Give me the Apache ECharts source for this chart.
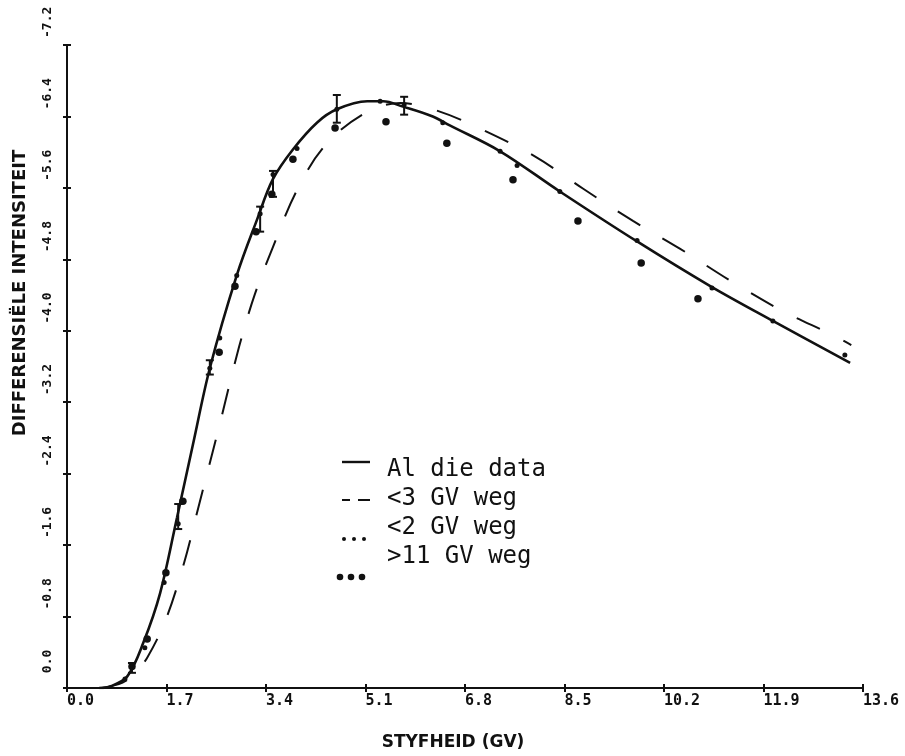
<!DOCTYPE html>
<html><head><meta charset="utf-8">
<script src="https://cdn.jsdelivr.net/npm/echarts@6/dist/echarts.min.js"></script>
<style>html,body{margin:0;padding:0;background:#fff}#c{width:905px;height:756px}</style>
</head><body><div id="c"></div>
<script>
// ---- tick labels ----
const xTickLabels = ['0.0','1.7','3.4','5.1','6.8','8.5','10.2','11.9','13.6'];
const yTickLabels = ['-7.2','-6.4','-5.6','-4.8','-4.0','-3.2','-2.4','-1.6','-0.8',' 0.0'];

// ---- series names ----
const seriesNames = ['Al die data', '<3 GV weg', '<2 GV weg', '>11 GV weg'];

// ---- solid curve: all data ----
const solidX = [0.55, 0.75, 1.03, 1.30, 1.59, 1.88, 2.15, 2.44, 2.90, 3.25, 3.52, 3.86, 4.27, 4.61, 5.13, 5.40, 5.74, 6.25, 6.54, 7.40, 8.42, 9.74, 10.99, 12.06, 13.38];
const solidY = [0, -0.02, -0.13, -0.50, -1.06, -1.91, -2.72, -3.58, -4.62, -5.25, -5.70, -6.03, -6.33, -6.48, -6.57, -6.57, -6.51, -6.40, -6.30, -6.01, -5.56, -5.00, -4.50, -4.11, -3.64];

// ---- dashed curve: <3 GV removed ----
const dashX = [0.60, 0.95, 1.15, 1.37, 1.69, 2.00, 2.24, 2.60, 2.94, 3.21, 3.52, 3.91, 4.39, 5.07, 5.70, 6.30, 7.04, 8.00, 8.82, 9.67, 10.47, 11.36, 12.23, 13.09, 13.40];
const dashY = [0, -0.06, -0.16, -0.34, -0.77, -1.40, -2.01, -2.93, -3.82, -4.41, -4.94, -5.55, -6.06, -6.43, -6.55, -6.47, -6.27, -5.95, -5.59, -5.23, -4.92, -4.55, -4.22, -3.95, -3.84];

// ---- small points: <2 GV removed ----
const smallX = [0.99, 1.33, 1.66, 1.90, 2.44, 2.61, 2.90, 3.30, 3.52, 3.93, 4.61, 5.35, 5.76, 6.42, 7.40, 7.69, 8.42, 9.74, 11.02, 12.06, 13.29];
const smallY = [-0.10, -0.45, -1.18, -1.84, -3.58, -3.92, -4.62, -5.31, -5.75, -6.04, -6.48, -6.57, -6.53, -6.33, -6.01, -5.85, -5.56, -5.01, -4.48, -4.11, -3.73];

// ---- big points: >11 GV removed ----
const bigX = [1.11, 1.37, 1.69, 1.98, 2.60, 2.87, 3.23, 3.50, 3.86, 4.58, 5.45, 6.49, 7.62, 8.73, 9.81, 10.78];
const bigY = [-0.24, -0.55, -1.29, -2.09, -3.76, -4.50, -5.11, -5.53, -5.92, -6.27, -6.34, -6.10, -5.69, -5.23, -4.76, -4.36];

// ---- error bars ----
const errX = [1.11, 1.90, 2.44, 3.30, 3.52, 4.61, 5.76];
const errLow = [-0.17, -1.78, -3.51, -5.11, -5.50, -6.33, -6.42];
const errHigh = [-0.28, -2.06, -3.67, -5.39, -5.79, -6.64, -6.62];

const xMin = 0, xMax = 13.6, xStep = 1.7;
const yMin = -7.2, yMax = 0, yStep = 0.8;

const pairs = (xs, ys) => xs.map((x, i) => [x, ys[i]]);
const INK = '#111';

const chart = echarts.init(document.getElementById('c'), null, {renderer: 'canvas'});

const baseX = {
  type: 'value', min: xMin, max: xMax, interval: xStep, position: 'bottom',
  splitLine: {show: false}
};
const baseY = {
  type: 'value', min: yMin, max: yMax, interval: yStep, inverse: true, position: 'left',
  splitLine: {show: false}
};

const option = {
  backgroundColor: '#fff',
  animation: false,
  grid: {left: 67, right: 42, top: 45, bottom: 64, containLabel: false},
  xAxis: [
    Object.assign({}, baseX, {
      name: 'STYFHEID (GV)', nameLocation: 'middle', nameGap: 46,
      nameTextStyle: {fontFamily: 'DejaVu Sans', fontWeight: 'bold', fontSize: 17, color: INK, padding: [0, 24, 0, 0]},
      axisLine: {show: true, lineStyle: {color: INK, width: 2}},
      axisTick: {show: true, inside: false, length: 4, lineStyle: {color: INK, width: 2}},
      axisLabel: {
        show: true, margin: 6, align: 'left',
        fontFamily: 'DejaVu Sans Mono', fontWeight: 'bold', fontSize: 15, color: INK,
        formatter: (v) => xTickLabels[Math.round((v - xMin) / xStep)]
      }
    }),
    Object.assign({}, baseX, {
      axisLine: {show: false},
      axisTick: {show: true, inside: true, length: 4, lineStyle: {color: INK, width: 2}},
      axisLabel: {show: false}
    })
  ],
  yAxis: [
    Object.assign({}, baseY, {
      axisLine: {show: true, lineStyle: {color: INK, width: 2}},
      axisTick: {show: true, inside: false, length: 4, lineStyle: {color: INK, width: 2}},
      axisLabel: {
        show: true, rotate: 90, margin: 13, align: 'left', verticalAlign: 'bottom',
        padding: [0, 0, 0, 7],
        fontFamily: 'DejaVu Sans Mono', fontWeight: 'bold', fontSize: 13, color: INK,
        formatter: (v) => yTickLabels[Math.round((v - yMin) / yStep)]
      }
    }),
    Object.assign({}, baseY, {
      axisLine: {show: false},
      axisTick: {show: true, inside: true, length: 4, lineStyle: {color: INK, width: 2}},
      axisLabel: {show: false}
    })
  ],
  series: [
    {
      name: seriesNames[0], type: 'line', data: pairs(solidX, solidY),
      smooth: 0.35, showSymbol: false, symbol: 'none',
      lineStyle: {color: INK, width: 2.6}, z: 3
    },
    {
      name: seriesNames[1], type: 'line', data: pairs(dashX, dashY),
      smooth: 0.35, showSymbol: false, symbol: 'none',
      lineStyle: {color: INK, width: 2, type: [26, 26]}, z: 2
    },
    {
      name: seriesNames[2], type: 'scatter', data: pairs(smallX, smallY),
      symbol: 'circle', symbolSize: 5, itemStyle: {color: INK, opacity: 1}, z: 4
    },
    {
      name: seriesNames[3], type: 'scatter', data: pairs(bigX, bigY),
      symbol: 'circle', symbolSize: 7.5, itemStyle: {color: INK, opacity: 1}, z: 4
    },
    {
      name: 'error', type: 'custom',
      data: errX.map((x, i) => [x, errLow[i], errHigh[i]]),
      renderItem: function (params, api) {
        const a = api.coord([api.value(0), api.value(1)]);
        const b = api.coord([api.value(0), api.value(2)]);
        const w = 4;
        const st = {stroke: INK, lineWidth: 2};
        return {
          type: 'group',
          children: [
            {type: 'line', shape: {x1: a[0], y1: a[1], x2: b[0], y2: b[1]}, style: st},
            {type: 'line', shape: {x1: a[0] - w, y1: a[1], x2: a[0] + w, y2: a[1]}, style: st},
            {type: 'line', shape: {x1: b[0] - w, y1: b[1], x2: b[0] + w, y2: b[1]}, style: st}
          ]
        };
      },
      z: 5
    }
  ],
  graphic: [
    {
      type: 'text', x: 20, y: 293, rotation: Math.PI / 2,
      style: {
        text: 'DIFFERENSIËLE INTENSITEIT', fill: INK,
        font: 'bold 18px "DejaVu Sans"', align: 'center', verticalAlign: 'middle'
      }
    },
    // legend
    {type: 'line', shape: {x1: 342, y1: 462, x2: 370, y2: 462}, style: {stroke: INK, lineWidth: 2.4}},
    {type: 'line', shape: {x1: 342, y1: 500, x2: 350, y2: 500}, style: {stroke: INK, lineWidth: 2}},
    {type: 'line', shape: {x1: 358, y1: 500, x2: 370, y2: 500}, style: {stroke: INK, lineWidth: 2}},
    {type: 'circle', shape: {cx: 344, cy: 539, r: 2}, style: {fill: INK}},
    {type: 'circle', shape: {cx: 354, cy: 539, r: 2}, style: {fill: INK}},
    {type: 'circle', shape: {cx: 364, cy: 539, r: 2}, style: {fill: INK}},
    {type: 'circle', shape: {cx: 340, cy: 577, r: 3.3}, style: {fill: INK}},
    {type: 'circle', shape: {cx: 351, cy: 577, r: 3.3}, style: {fill: INK}},
    {type: 'circle', shape: {cx: 362, cy: 577, r: 3.3}, style: {fill: INK}},
    {type: 'text', x: 387, y: 470, style: {text: seriesNames[0], fill: INK, font: '24px "DejaVu Sans Mono"', verticalAlign: 'middle'}},
    {type: 'text', x: 387, y: 499, style: {text: seriesNames[1], fill: INK, font: '24px "DejaVu Sans Mono"', verticalAlign: 'middle'}},
    {type: 'text', x: 387, y: 528, style: {text: seriesNames[2], fill: INK, font: '24px "DejaVu Sans Mono"', verticalAlign: 'middle'}},
    {type: 'text', x: 387, y: 557, style: {text: seriesNames[3], fill: INK, font: '24px "DejaVu Sans Mono"', verticalAlign: 'middle'}}
  ]
};
chart.setOption(option);
</script>
</body></html>
